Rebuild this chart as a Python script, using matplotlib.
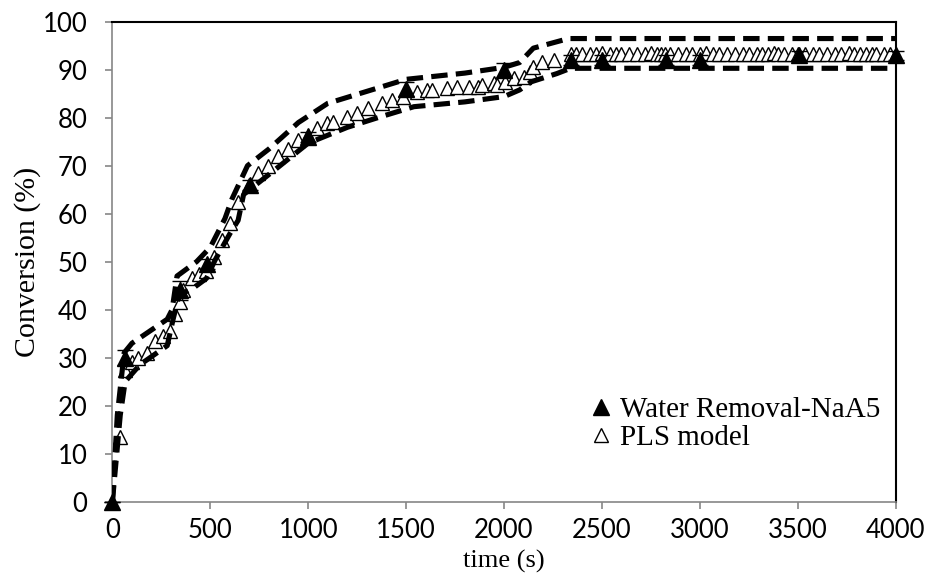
# Conversion vs time: water removal experiment with PLS model and confidence band

import numpy as np
import matplotlib.pyplot as plt
from matplotlib.lines import Line2D



# Data ............................................................................................

# Experimental points (Water Removal-NaA5)
exp_t = [0, 65, 345, 481, 703, 1000, 1500, 2000, 2344, 2500, 2825, 3000, 3505, 4000]
exp_conv = [0, 30, 44, 49.5, 66, 76, 86, 90, 92, 92, 92, 92, 93, 93]
exp_err = [0, 1.5, 2, 1, 1, 1, 1.5, 1.5, 1, 1, 1, 1, 1, 1]

# PLS model predictions
pls_t = [38, 65, 100, 130, 176, 217, 258, 294, 320, 345, 362, 405, 440, 480, 520, 558, 601, 642,
         700, 745, 795, 847, 898, 949, 1000, 1044, 1095, 1128, 1197, 1248, 1306, 1376, 1427, 1486,
         1555, 1606, 1632, 1709, 1760, 1819, 1869, 1888, 1947, 1964, 2007, 2050, 2100, 2135, 2150,
         2194, 2253,
         2340, 2370, 2400, 2440, 2470, 2500, 2540, 2570, 2600, 2640, 2680, 2720, 2750, 2780, 2800,
         2820, 2850, 2890, 2930, 2960, 3000, 3030, 3070, 3100, 3140, 3180, 3220, 3250, 3290, 3320,
         3350, 3380, 3400, 3430, 3470, 3500, 3540, 3580, 3610, 3650, 3690, 3720, 3760, 3790, 3820,
         3850, 3880, 3900, 3940, 3970, 4000]
pls_conv = [13.5, 27.5, 29, 30, 31, 33.5, 34.5, 35.5, 39, 41.5, 44, 46.5, 47.5, 48, 51, 54.5, 58, 62.5,
            66, 68.5, 70, 72, 73.5, 75.3, 76.5, 77.8, 78.9, 79.2, 80.2, 81, 82, 83, 83.7, 84.4,
            85.4, 85.8, 85.8, 86.1, 86.3, 86.3, 86.5, 86.8, 87.2, 86.8, 87.5, 88.2, 88.5, 89.6, 90.6,
            91.7, 92,
            93.3, 93.3, 93.2, 93.3, 93.3, 93.4, 93.3, 93.3, 93.2, 93.3, 93.3, 93.3, 93.4, 93.3, 93.3,
            93.3, 93.3, 93.2, 93.3, 93.3, 93.3, 93.4, 93.3, 93.3, 93.3, 93.3, 93.2, 93.3, 93.3, 93.3,
            93.3, 93.4, 93.3, 93.3, 93.3, 93.3, 93.3, 93.3, 93.2, 93.3, 93.3, 93.3, 93.4, 93.3, 93.3,
            93.3, 93.3, 93.3, 93.3, 93.3, 93.3]

# Upper and lower bounds (dashed)
up_t = [0, 25, 60, 100, 190, 280, 305, 330, 430, 500, 575, 610, 690, 800, 950, 1100, 1300, 1500,
        1800, 2000, 2080, 2150, 2330, 4000]
up_conv = [0, 18, 31, 33, 35.5, 38, 40, 47, 50, 53, 59, 63, 70, 73.5, 79, 83, 85.5, 88,
           89.3, 90.5, 91.5, 94.5, 96.5, 96.5]
lo_t = [0, 40, 65, 140, 280, 310, 340, 413, 480, 524, 601, 642, 670, 850, 1000, 1200, 1370, 1540,
        1800, 2000, 2080, 2140, 2270, 2340, 4000]
lo_conv = [0, 18, 25, 28.5, 32.5, 38, 43, 44.5, 46.5, 50.3, 55.9, 58.6, 64, 69.8, 74.7, 78, 80.2, 82.3,
           83.3, 84.4, 85.8, 87.5, 89.2, 90.3, 90.3]



# Plot ............................................................................................

fig = plt.figure(figsize = (9.29, 5.88), dpi = 100)
ax = fig.add_axes([0.121, 0.147, 0.843, 0.816])

dash = (3.2, 1.6)
ax.plot(up_t, up_conv, color = 'black', lw = 3.7, dashes = dash, zorder = 3)
ax.plot(lo_t, lo_conv, color = 'black', lw = 3.7, dashes = dash, zorder = 3)

ax.plot(pls_t, pls_conv, ls = 'none', marker = '^', ms = 10, mfc = 'white', mec = 'black', mew = 1,
        zorder = 2)
ax.errorbar(exp_t, exp_conv, yerr = exp_err, ls = 'none', marker = '^', ms = 11, color = 'black',
            ecolor = 'black', elinewidth = 1, capsize = 6, capthick = 1, zorder = 4, clip_on = False)

ax.set_xlim(0, 4000)
ax.set_ylim(0, 100)
ax.set_xticks(np.arange(0, 4001, 500))
ax.set_yticks(np.arange(0, 101, 10))

grey = '#868686'
for s in ['left', 'bottom']:
    ax.spines[s].set_color(grey)
    ax.spines[s].set_linewidth(1.2)
for s in ['top', 'right']:
    ax.spines[s].set_color('black')
    ax.spines[s].set_linewidth(1.5)
ax.tick_params(direction = 'out', length = 5, width = 1.2, color = grey, labelsize = 18.5)
ax.tick_params(axis = 'x', pad = 7)
ax.tick_params(axis = 'y', pad = 13)
for lab in ax.get_xticklabels() + ax.get_yticklabels():
    lab.set_fontfamily('Lato')

ax.set_xlabel('time (s)', fontfamily = 'Liberation Serif', fontsize = 19, labelpad = 5)
ax.set_ylabel('Conversion (%)', fontfamily = 'Liberation Serif', fontsize = 21.5, labelpad = 1)

# Legend: markers only (no error bar in the key)
h_exp = Line2D([], [], ls = 'none', marker = '^', ms = 11, color = 'black')
h_pls = Line2D([], [], ls = 'none', marker = '^', ms = 10, mfc = 'white', mec = 'black', mew = 1)
ax.legend([h_exp, h_pls], ['Water Removal-NaA5', 'PLS model'], loc = 'lower right',
          bbox_to_anchor = (0.981, 0.105), frameon = False,
          prop = {'family': 'Liberation Serif', 'size': 21}, handletextpad = 0.15,
          labelspacing = 0.05, handlelength = 1.0, borderpad = 0, borderaxespad = 0)

plt.savefig('out.png', dpi = 100)
